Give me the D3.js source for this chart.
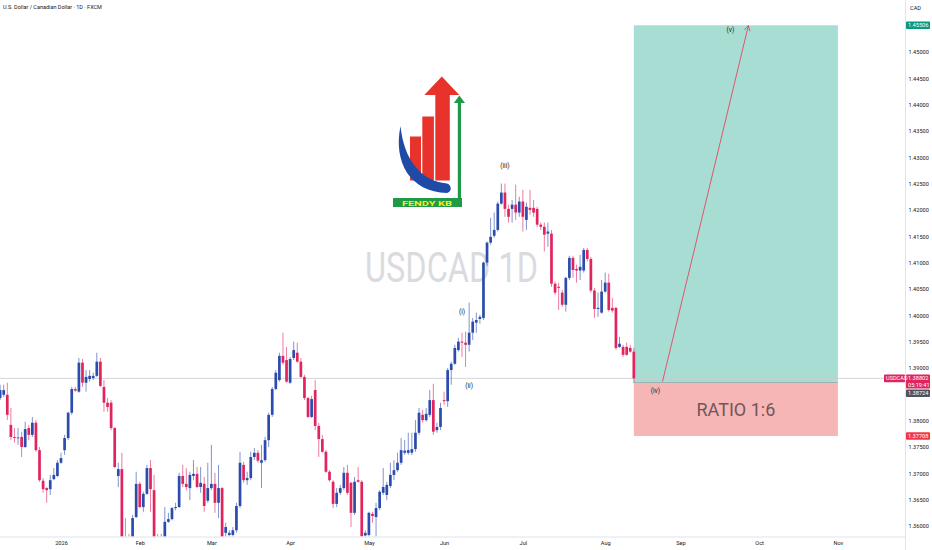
<!DOCTYPE html>
<html>
<head>
<meta charset="utf-8">
<title>USDCAD 1D</title>
<script src="https://cdn.jsdelivr.net/npm/d3@7"></script>
<style>
  html, body { margin: 0; padding: 0; background: #fff; }
  svg { display: block; font-family: Roboto, "Liberation Sans", Arial, sans-serif; }
</style>
</head>
<body>
<svg id="chart" width="932" height="550"></svg>
<script>
// ---- data (daily candles, weekdays from firstDay) ----
const firstDay = "2025-12-09";
const lastDay = "2026-11-30";

const openP = [
  1.3843,1.3849,1.3849,1.3792,1.3769,1.3767,1.3769,1.3750,1.3786,1.3773,
  1.3796,1.3744,1.3686,1.3672,1.3670,1.3689,1.3695,1.3720,1.3744,1.3767,
  1.3815,1.3860,1.3855,1.3910,1.3872,1.3879,1.3881,1.3885,1.3912,1.3864,
  1.3834,1.3834,1.3786,1.3695,1.3708,1.3575,1.3560,1.3560,1.3617,1.3680,
  1.3636,1.3661,1.3710,1.3668,1.3570,1.3550,1.3575,1.3608,1.3613,1.3634,
  1.3636,1.3695,1.3680,1.3672,1.3695,1.3699,1.3674,1.3680,1.3648,1.3672,
  1.3680,1.3644,1.3672,1.3587,1.3583,1.3583,1.3592,1.3638,1.3716,1.3687,
  1.3691,1.3731,1.3739,1.3720,1.3725,1.3763,1.3811,1.3860,1.3877,1.3923,
  1.3915,1.3872,1.3919,1.3929,1.3912,1.3883,1.3843,1.3807,1.3858,1.3790,
  1.3765,1.3741,1.3703,1.3684,1.3642,1.3663,1.3672,1.3701,1.3682,1.3625,
  1.3687,1.3684,1.3582,1.3583,1.3623,1.3617,1.3634,1.3663,1.3659,1.3676,
  1.3697,1.3706,1.3720,1.3739,1.3739,1.3739,1.3746,1.3777,1.3811,1.3801,
  1.3811,1.3839,1.3782,1.3788,1.3839,1.3837,1.3896,1.3908,1.3934,1.3950,
  1.3948,1.3944,1.3967,1.3986,1.3993,1.3995,1.4100,1.4138,1.4151,1.4162,
  1.4212,1.4233,1.4202,1.4202,1.4210,1.4195,1.4216,1.4181,1.4204,1.4204,
  1.4202,1.4172,1.4168,1.4155,1.4155,1.4060,1.4054,1.4043,1.4020,1.4071,
  1.4109,1.4088,1.4085,1.4085,1.4124,1.4107,1.4047,1.4012,1.4005,1.4045,
  1.4062,1.4014,1.4014,1.3940,1.3940,1.3940,1.3938,1.3931
];
const highP = [
  1.3868,1.3868,1.3872,1.3824,1.3786,1.3786,1.3779,1.3798,1.3792,1.3807,
  1.3801,1.3750,1.3691,1.3674,1.3697,1.3710,1.3725,1.3739,1.3773,1.3817,
  1.3864,1.3864,1.3919,1.3917,1.3896,1.3896,1.3891,1.3929,1.3919,1.3877,
  1.3843,1.3839,1.3788,1.3720,1.3739,1.3615,1.3585,1.3621,1.3703,1.3684,
  1.3665,1.3716,1.3725,1.3697,1.3585,1.3585,1.3636,1.3625,1.3636,1.3644,
  1.3701,1.3716,1.3710,1.3703,1.3725,1.3712,1.3712,1.3693,1.3720,1.3754,
  1.3701,1.3716,1.3674,1.3606,1.3592,1.3598,1.3644,1.3741,1.3722,1.3703,
  1.3741,1.3748,1.3744,1.3754,1.3769,1.3815,1.3864,1.3896,1.3929,1.3967,
  1.3940,1.3921,1.3950,1.3948,1.3919,1.3887,1.3845,1.3847,1.3877,1.3796,
  1.3773,1.3744,1.3706,1.3687,1.3672,1.3678,1.3712,1.3716,1.3684,1.3693,
  1.3712,1.3687,1.3592,1.3627,1.3627,1.3644,1.3668,1.3710,1.3684,1.3720,
  1.3725,1.3739,1.3767,1.3763,1.3777,1.3777,1.3801,1.3824,1.3820,1.3824,
  1.3858,1.3870,1.3796,1.3834,1.3855,1.3900,1.3912,1.3944,1.3957,1.3967,
  1.3969,1.4024,1.3995,1.4005,1.4001,1.4102,1.4140,1.4185,1.4195,1.4216,
  1.4250,1.4250,1.4210,1.4219,1.4248,1.4225,1.4238,1.4214,1.4238,1.4219,
  1.4206,1.4176,1.4176,1.4176,1.4162,1.4064,1.4062,1.4048,1.4073,1.4113,
  1.4113,1.4096,1.4115,1.4128,1.4128,1.4111,1.4052,1.4043,1.4067,1.4081,
  1.4079,1.4033,1.4016,1.3959,1.3944,1.3948,1.3944,1.3938
];
const lowP = [
  1.3839,1.3845,1.3801,1.3763,1.3758,1.3754,1.3731,1.3748,1.3763,1.3769,
  1.3741,1.3684,1.3663,1.3644,1.3659,1.3687,1.3693,1.3718,1.3735,1.3763,
  1.3811,1.3855,1.3853,1.3864,1.3855,1.3874,1.3877,1.3883,1.3864,1.3817,
  1.3817,1.3782,1.3710,1.3674,1.3560,1.3540,1.3530,1.3545,1.3615,1.3634,
  1.3627,1.3659,1.3627,1.3550,1.3530,1.3535,1.3565,1.3606,1.3611,1.3630,
  1.3634,1.3674,1.3668,1.3649,1.3687,1.3672,1.3663,1.3627,1.3644,1.3668,
  1.3625,1.3615,1.3560,1.3579,1.3575,1.3575,1.3587,1.3634,1.3682,1.3678,
  1.3687,1.3725,1.3720,1.3672,1.3722,1.3750,1.3807,1.3858,1.3874,1.3906,
  1.3872,1.3870,1.3915,1.3910,1.3881,1.3839,1.3805,1.3805,1.3782,1.3731,
  1.3739,1.3701,1.3684,1.3634,1.3636,1.3659,1.3668,1.3659,1.3598,1.3621,
  1.3682,1.3570,1.3575,1.3579,1.3606,1.3579,1.3630,1.3659,1.3649,1.3672,
  1.3687,1.3703,1.3716,1.3735,1.3735,1.3735,1.3741,1.3773,1.3796,1.3798,
  1.3807,1.3773,1.3777,1.3782,1.3830,1.3826,1.3868,1.3906,1.3931,1.3921,
  1.3902,1.3931,1.3953,1.3967,1.3984,1.3991,1.4094,1.4134,1.4147,1.4159,
  1.4210,1.4187,1.4176,1.4176,1.4181,1.4187,1.4159,1.4162,1.4191,1.4187,
  1.4168,1.4162,1.4121,1.4130,1.4054,1.4039,1.4010,1.4016,1.4007,1.4067,
  1.4071,1.4062,1.4067,1.4081,1.4102,1.4043,1.3995,1.3997,1.4003,1.4043,
  1.4007,1.4005,1.3934,1.3938,1.3921,1.3923,1.3929,1.3872
];
const closeP = [
  1.3858,1.3858,1.3811,1.3769,1.3767,1.3768,1.3750,1.3784,1.3773,1.3796,
  1.3744,1.3687,1.3670,1.3668,1.3687,1.3697,1.3720,1.3729,1.3767,1.3815,
  1.3860,1.3857,1.3910,1.3872,1.3883,1.3885,1.3885,1.3912,1.3866,1.3834,
  1.3826,1.3786,1.3712,1.3708,1.3575,1.3560,1.3555,1.3615,1.3680,1.3636,
  1.3661,1.3710,1.3670,1.3570,1.3550,1.3570,1.3608,1.3613,1.3634,1.3636,
  1.3695,1.3680,1.3674,1.3697,1.3699,1.3674,1.3682,1.3638,1.3672,1.3680,
  1.3644,1.3672,1.3575,1.3598,1.3587,1.3592,1.3638,1.3720,1.3687,1.3691,
  1.3731,1.3739,1.3724,1.3725,1.3763,1.3811,1.3860,1.3891,1.3923,1.3910,
  1.3874,1.3917,1.3934,1.3912,1.3883,1.3843,1.3807,1.3841,1.3790,1.3765,
  1.3741,1.3703,1.3687,1.3642,1.3663,1.3672,1.3701,1.3663,1.3625,1.3684,
  1.3684,1.3580,1.3587,1.3625,1.3619,1.3634,1.3665,1.3674,1.3678,1.3697,
  1.3706,1.3720,1.3744,1.3743,1.3744,1.3746,1.3777,1.3815,1.3801,1.3813,
  1.3839,1.3779,1.3788,1.3824,1.3837,1.3896,1.3908,1.3938,1.3950,1.3948,
  1.3944,1.3967,1.3988,1.3991,1.3997,1.4100,1.4138,1.4149,1.4162,1.4212,
  1.4233,1.4202,1.4187,1.4210,1.4195,1.4216,1.4187,1.4206,1.4200,1.4195,
  1.4172,1.4168,1.4153,1.4159,1.4060,1.4043,1.4052,1.4020,1.4071,1.4109,
  1.4086,1.4085,1.4092,1.4124,1.4107,1.4047,1.4012,1.4014,1.4045,1.4062,
  1.4010,1.4009,1.3938,1.3946,1.3925,1.3925,1.3931,1.38802
];

const priceTicks = [1.36, 1.365, 1.37, 1.375, 1.38, 1.39, 1.395, 1.40, 1.405,
  1.41, 1.415, 1.42, 1.425, 1.43, 1.435, 1.44, 1.445, 1.45];
const monthLabels = ["2026", "Feb", "Mar", "Apr", "May", "Jun", "Jul", "Aug", "Sep", "Oct", "Nov"];
const monthStarts = ["2026-01-01", "2026-02-02", "2026-03-02", "2026-04-01", "2026-05-01",
  "2026-06-01", "2026-07-01", "2026-08-03", "2026-09-01", "2026-10-01", "2026-11-02"];

// long position tool: target, entry, stop
const positionDates = ["2026-08-13", "2026-11-02"];
const positionLevels = [1.45506, 1.38724, 1.37708];
const lastPrice = 1.38802;
const countdown = "05:19:41";

// drawn arrow and wave count
const arrowDates = ["2026-08-25", "2026-09-28"];
const arrowPrices = [1.3874, 1.4550];
const waveLabels = ["(i)", "(ii)", "(iii)", "(iv)", "(v)"];
const waveDates = ["2026-06-08", "2026-06-10", "2026-06-24", "2026-08-21", "2026-09-21"];
const wavePrices = [1.4006, 1.3866, 1.4284, 1.3857, 1.4542];

// ---- layout ----
const W = 932, H = 550;
const plotRight = 905.5, plotBottom = 536.5;
const bull = "#2b4cad", bear = "#e0245e";
const textColor = "#131722";

const svg = d3.select("#chart");
const parse = d3.timeParse("%Y-%m-%d");
const fmt = d3.timeFormat("%Y-%m-%d");

// weekday calendar (categories of the x axis)
const tradingDays = d3.timeDay
  .range(parse(firstDay), d3.timeDay.offset(parse(lastDay), 1))
  .filter(d => d.getDay() !== 0 && d.getDay() !== 6)
  .map(fmt);
const dayIndex = new Map(tradingDays.map((d, i) => [d, i]));
const ix = d => dayIndex.get(d);

const x = d3.scaleLinear()
  .domain([ix("2026-01-01"), ix("2026-11-02")])
  .range([61, 837.9]);
const y = d3.scaleLinear()
  .domain([1.36, 1.45])
  .range([526, 51.9]);

const candles = openP.map((o, i) => ({ i, o, h: highP[i], l: lowP[i], c: closeP[i] }));

svg.append("rect").attr("width", W).attr("height", H).attr("fill", "#fff");

svg.append("defs").append("clipPath").attr("id", "plotClip")
  .append("rect").attr("x", 0).attr("y", 0).attr("width", plotRight).attr("height", plotBottom);

const plot = svg.append("g").attr("clip-path", "url(#plotClip)");

// watermark
plot.append("text")
  .attr("x", 451.5).attr("y", 282)
  .attr("text-anchor", "middle")
  .attr("font-size", 42)
  .attr("textLength", 173)
  .attr("lengthAdjust", "spacingAndGlyphs")
  .attr("fill", "#dadbdf")
  .text("USDCAD 1D");

// position box
const bx0 = x(ix(positionDates[0])), bx1 = x(ix(positionDates[1]));
plot.append("rect")
  .attr("x", bx0).attr("width", bx1 - bx0)
  .attr("y", y(positionLevels[0])).attr("height", y(positionLevels[1]) - y(positionLevels[0]))
  .attr("fill", "rgb(168,221,212)");
plot.append("rect")
  .attr("x", bx0).attr("width", bx1 - bx0)
  .attr("y", y(positionLevels[1])).attr("height", y(positionLevels[2]) - y(positionLevels[1]))
  .attr("fill", "rgb(247,182,182)");
plot.append("line")
  .attr("x1", bx0).attr("x2", bx1)
  .attr("y1", y(positionLevels[1])).attr("y2", y(positionLevels[1]))
  .attr("stroke", "#8fa8a4").attr("stroke-width", 0.8);
plot.append("text")
  .attr("x", (bx0 + bx1) / 2)
  .attr("y", (y(positionLevels[1]) + y(positionLevels[2])) / 2 + 6.5)
  .attr("text-anchor", "middle")
  .attr("font-size", 18)
  .attr("fill", "#6f565a")
  .text("RATIO 1:6");

// current price line
plot.append("line")
  .attr("x1", 0).attr("x2", plotRight)
  .attr("y1", y(lastPrice)).attr("y2", y(lastPrice))
  .attr("stroke", "#c9cbd1").attr("stroke-width", 0.8);

// candles
const cg = plot.append("g");
cg.selectAll("line.wick")
  .data(candles)
  .join("line")
  .attr("class", "wick")
  .attr("x1", d => x(d.i)).attr("x2", d => x(d.i))
  .attr("y1", d => y(d.h)).attr("y2", d => y(d.l))
  .attr("stroke", d => d.c >= d.o ? bull : bear)
  .attr("stroke-opacity", 0.75)
  .attr("stroke-width", 0.8);
cg.selectAll("rect.body")
  .data(candles)
  .join("rect")
  .attr("class", "body")
  .attr("x", d => x(d.i) - 1.35)
  .attr("width", 2.7)
  .attr("y", d => y(Math.max(d.o, d.c)))
  .attr("height", d => Math.max(0.8, Math.abs(y(d.o) - y(d.c))))
  .attr("fill", d => d.c >= d.o ? bull : bear);

// arrow
const ax0 = x(ix(arrowDates[0])), ay0 = y(arrowPrices[0]);
const ax1 = x(ix(arrowDates[1])), ay1 = y(arrowPrices[1]);
plot.append("line")
  .attr("x1", ax0).attr("y1", ay0).attr("x2", ax1).attr("y2", ay1)
  .attr("stroke", "#e2475f").attr("stroke-width", 0.9);
const ang = Math.atan2(ay1 - ay0, ax1 - ax0);
[-0.5, 0.5].forEach(a => {
  plot.append("line")
    .attr("x1", ax1).attr("y1", ay1)
    .attr("x2", ax1 - 6 * Math.cos(ang + a)).attr("y2", ay1 - 6 * Math.sin(ang + a))
    .attr("stroke", "#e2475f").attr("stroke-width", 0.9);
});

// wave labels
svg.append("g").selectAll("text")
  .data(waveLabels)
  .join("text")
  .attr("x", (d, i) => x(ix(waveDates[i])))
  .attr("y", (d, i) => y(wavePrices[i]))
  .attr("dy", "0.35em")
  .attr("text-anchor", "middle")
  .attr("font-size", 6.6)
  .attr("fill", textColor)
  .text(d => d);

// logo
const logo = svg.append("g");
logo.append("rect").attr("x", 393).attr("y", 198).attr("width", 69).attr("height", 9).attr("fill", "#1e9a48");
logo.append("text")
  .attr("x", 427).attr("y", 205.6)
  .attr("text-anchor", "middle")
  .attr("font-size", 8).attr("font-weight", "bold")
  .attr("textLength", 50).attr("lengthAdjust", "spacingAndGlyphs")
  .attr("fill", "#ffe81a")
  .text("FENDY KB");
logo.append("rect").attr("x", 457.8).attr("y", 101).attr("width", 3.2).attr("height", 97).attr("fill", "#1e9a48");
logo.append("path").attr("d", "M453.8,103 L459.4,95.5 L465,103 Z").attr("fill", "#1e9a48");
logo.append("rect").attr("x", 410).attr("y", 136.5).attr("width", 11).attr("height", 44).attr("fill", "#e8322c");
logo.append("rect").attr("x", 422.3).attr("y", 116.5).attr("width", 11.6).attr("height", 64).attr("fill", "#e8322c");
logo.append("path")
  .attr("d", "M435.3,180.5 L435.3,95 L424.3,95 L441.8,76.5 L459.3,95 L449.8,95 L449.8,180.5 Z")
  .attr("fill", "#e8322c");
logo.append("path")
  .attr("d", "M400.5,126 C393,162 410,192 447,193 C452,192 452,185 447,183.5 C421,181 404,160 400.5,126 Z")
  .attr("fill", "#1f4ba6");

// title
svg.append("text")
  .attr("x", 3).attr("y", 8.6)
  .attr("font-size", 5.5)
  .attr("fill", textColor)
  .text("U.S. Dollar / Canadian Dollar · 1D · FXCM");

// axis borders
svg.append("line").attr("x1", plotRight).attr("x2", plotRight).attr("y1", 0).attr("y2", H)
  .attr("stroke", "#e0e3eb").attr("stroke-width", 1);
svg.append("line").attr("x1", 0).attr("x2", plotRight).attr("y1", plotBottom + 0.5).attr("y2", plotBottom + 0.5)
  .attr("stroke", "#e0e3eb").attr("stroke-width", 1);

// price axis
const yAxis = svg.append("g")
  .attr("transform", `translate(${plotRight + 2},0)`)
  .call(d3.axisRight(y).tickValues(priceTicks).tickFormat(d3.format(".5f")).tickSize(0).tickPadding(1));
yAxis.select(".domain").remove();
yAxis.selectAll("text")
  .attr("font-size", 5.6)
  .attr("font-family", "Roboto, 'Liberation Sans', sans-serif")
  .attr("fill", textColor);

svg.append("text").attr("x", 910).attr("y", 10).attr("font-size", 5.6).attr("fill", textColor).text("CAD");

// time axis
const xAxis = svg.append("g")
  .attr("transform", `translate(0,${plotBottom + 1})`)
  .call(d3.axisBottom(x)
    .tickValues(monthStarts.map(ix))
    .tickFormat((d, i) => monthLabels[i])
    .tickSize(0).tickPadding(4));
xAxis.select(".domain").remove();
xAxis.selectAll("text")
  .attr("font-size", 5.6)
  .attr("font-family", "Roboto, 'Liberation Sans', sans-serif")
  .attr("fill", textColor);

// price scale labels
function scaleLabel(yc, h, fill, lines, x0, w) {
  const g = svg.append("g");
  g.append("rect").attr("x", x0).attr("y", yc - 3.8).attr("width", w).attr("height", h)
    .attr("rx", 0.8).attr("fill", fill);
  lines.forEach((t, k) => {
    g.append("text")
      .attr("x", x0 + 2).attr("y", yc + 2 + k * 6.2)
      .attr("font-size", 5.6).attr("fill", "#fff")
      .text(t);
  });
}
const fmt5 = d3.format(".5f");
scaleLabel(y(positionLevels[0]), 7.6, "#089981", [fmt5(positionLevels[0])], 906, 24);
scaleLabel(y(lastPrice), 14, bear, [fmt5(lastPrice), countdown], 906, 24);
scaleLabel(y(lastPrice) + 14.8, 7.6, "#50535e", [fmt5(positionLevels[1])], 906, 24);
scaleLabel(y(positionLevels[2]), 7.6, "#f23645", [fmt5(positionLevels[2])], 906, 24);
scaleLabel(y(lastPrice), 7.6, bear, ["USDCAD"], 884, 21);
</script>
</body>
</html>
